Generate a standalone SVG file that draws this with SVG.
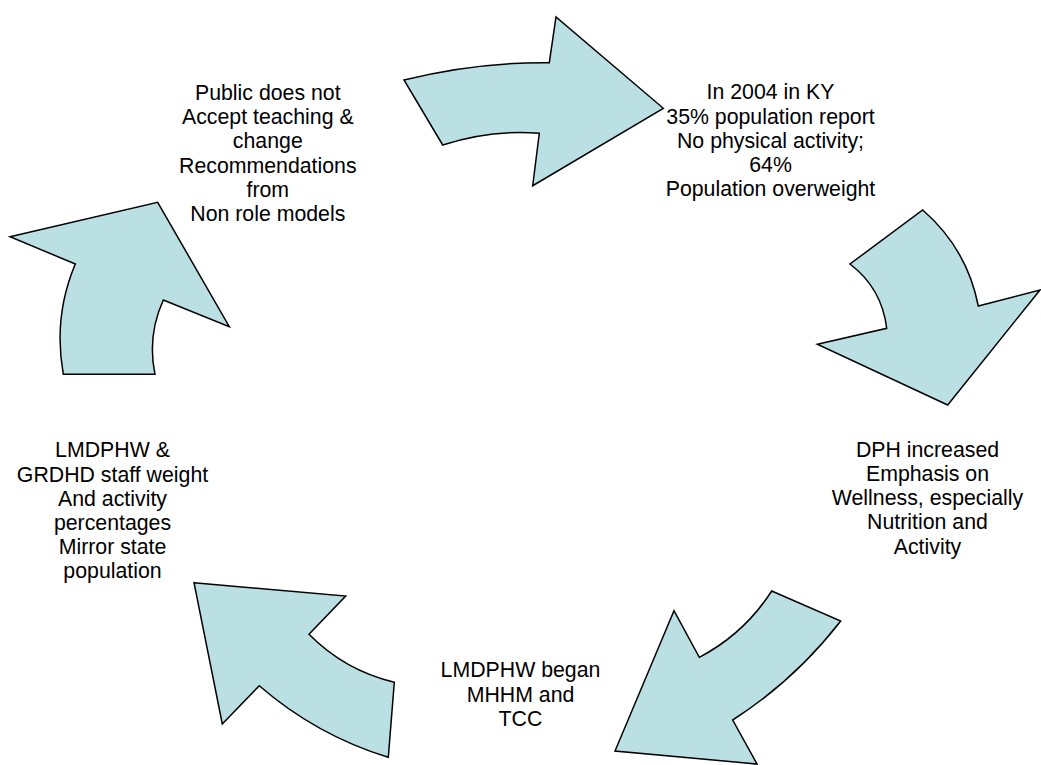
<svg xmlns="http://www.w3.org/2000/svg" width="1041" height="765" viewBox="0 0 1041 765">
<style>
.arrow{fill:#BBE0E3;stroke:#000;stroke-width:1.5;stroke-linejoin:miter}
.lbl{font-family:"Liberation Sans",Arial,sans-serif;font-size:21.3px;fill:#000;text-anchor:middle}
</style>
<rect width="1041" height="765" fill="#fff"/>
<g id="connectors">
<path id="arrow-top" class="arrow" d="M404,80 Q476.7,62 549.3,62.7 L556,17 L663.3,108.3 L532.7,185.7 L539.3,133.3 Q491,129.4 442.7,145 Z"/>
<path id="arrow-right" class="arrow" d="M922.7,210 Q967,248.5 978.3,306 L1040,290 L947.7,405 L817.3,344.3 L886.7,328.3 Q882,288.5 850,264 Z"/>
<path id="arrow-bottom-right" class="arrow" d="M771.7,591 L840.7,621 Q795,680 732.7,720 L757,764 L615,751 L674,610.7 L699.3,657.3 Q744,634 771.7,591 Z"/>
<path id="arrow-bottom-left" class="arrow" d="M194,582.7 L345.7,596 L309,634.3 Q344.8,670.5 394.3,682.3 L388.3,757.3 Q316,735 259.3,685.7 L222.3,724 Z"/>
<path id="arrow-left" class="arrow" d="M10,236.7 L157.7,202.3 L229.3,326.7 L163.3,300 Q147,336 155,374.3 L63.3,374.3 Q53,317 75.3,264 Z"/>
</g>
<g id="node-public">
<text class="lbl" x="267.8" y="100">Public does not</text>
<text class="lbl" x="267.8" y="124.2">Accept teaching &amp;</text>
<text class="lbl" x="267.8" y="148.4">change</text>
<text class="lbl" x="267.8" y="172.6">Recommendations</text>
<text class="lbl" x="267.8" y="196.8">from</text>
<text class="lbl" x="267.8" y="221">Non role models</text>
</g>
<g id="node-ky">
<text class="lbl" x="770.5" y="99.3">In 2004 in KY</text>
<text class="lbl" x="770.5" y="123.5">35% population report</text>
<text class="lbl" x="770.5" y="147.7">No physical activity;</text>
<text class="lbl" x="770.5" y="171.9">64%</text>
<text class="lbl" x="770.5" y="196.1">Population overweight</text>
</g>
<g id="node-dph">
<text class="lbl" x="927.5" y="456.7">DPH increased</text>
<text class="lbl" x="927.5" y="480.9">Emphasis on</text>
<text class="lbl" x="927.5" y="505.1">Wellness, especially</text>
<text class="lbl" x="927.5" y="529.3">Nutrition and</text>
<text class="lbl" x="927.5" y="553.5">Activity</text>
</g>
<g id="node-began">
<text class="lbl" x="520.5" y="677.3">LMDPHW began</text>
<text class="lbl" x="520.5" y="701.5">MHHM and</text>
<text class="lbl" x="520.5" y="725.7">TCC</text>
</g>
<g id="node-staff">
<text class="lbl" x="112.5" y="457.3">LMDPHW &amp;</text>
<text class="lbl" x="112.5" y="481.5">GRDHD staff weight</text>
<text class="lbl" x="112.5" y="505.7">And activity</text>
<text class="lbl" x="112.5" y="529.9">percentages</text>
<text class="lbl" x="112.5" y="554.1">Mirror state</text>
<text class="lbl" x="112.5" y="578.3">population</text>
</g>
</svg>
